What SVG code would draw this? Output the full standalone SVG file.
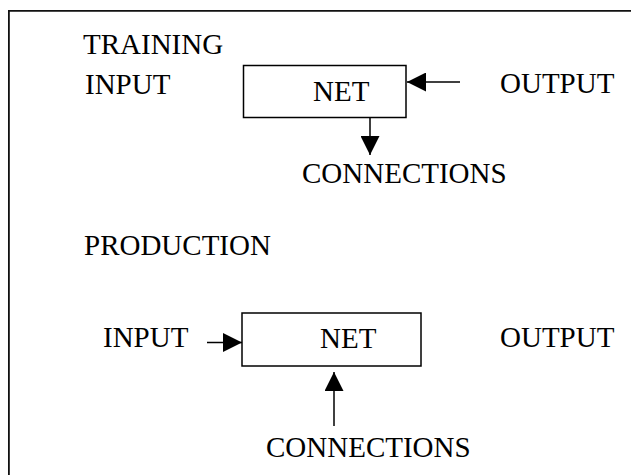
<svg xmlns="http://www.w3.org/2000/svg" width="631" height="475" viewBox="0 0 631 475">
<style>
text{font-family:"Liberation Serif","Times New Roman",serif;font-size:29px;fill:#000}
.box{fill:#fff;stroke:#000;stroke-width:1.5}
.edge{stroke:#000;stroke-width:1.5;fill:none}
.frame{stroke:#111;stroke-width:1.8;fill:none}
</style>
<defs>
<marker id="ah" markerUnits="userSpaceOnUse" markerWidth="19" markerHeight="19" refX="19" refY="9.5" orient="auto">
<path d="M0,0 L19,9.5 L0,19 z" fill="#000"/>
</marker>
</defs>
<rect width="631" height="475" fill="#fff"/>
<path class="frame" d="M8.9 475 V10.9 H631"/>
<g id="labels">
<text x="83" y="54">TRAINING</text>
<text x="85" y="94">INPUT</text>
<text x="500" y="93">OUTPUT</text>
<text x="302" y="183">CONNECTIONS</text>
<text x="84" y="255">PRODUCTION</text>
<text x="103" y="347">INPUT</text>
<text x="500" y="347">OUTPUT</text>
<text x="266" y="456.5">CONNECTIONS</text>
</g>
<g id="net-training">
<rect class="box" x="243.5" y="65.5" width="162.5" height="52"/>
<text x="313" y="101">NET</text>
</g>
<g id="net-production">
<rect class="box" x="242" y="313" width="179" height="53"/>
<text x="320" y="348">NET</text>
</g>
<g id="connectors">
<line class="edge" x1="460" y1="82" x2="407" y2="82" marker-end="url(#ah)"/>
<line class="edge" x1="370" y1="118" x2="370" y2="155" marker-end="url(#ah)"/>
<line class="edge" x1="207" y1="342.5" x2="242" y2="342.5" marker-end="url(#ah)"/>
<line class="edge" x1="334" y1="426" x2="334" y2="372" marker-end="url(#ah)"/>
</g>
</svg>
